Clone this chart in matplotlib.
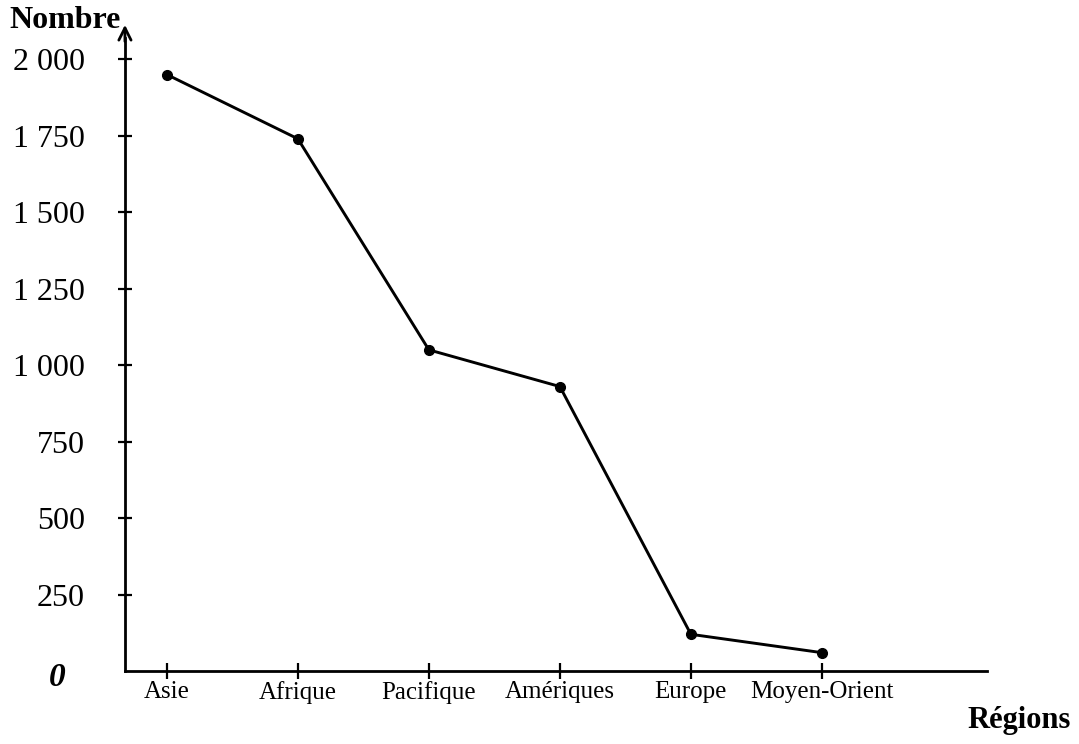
import matplotlib
matplotlib.use('Agg')
import matplotlib.pyplot as plt

# données
regions = ['Asie', 'Afrique', 'Pacifique', 'Amériques', 'Europe', 'Moyen-Orient']
nombre = [1950, 1740, 1050, 930, 120, 60]
yticks = [250, 500, 750, 1000, 1250, 1500, 1750, 2000]
ytick_labels = ['250', '500', '750', '1 000', '1 250', '1 500', '1 750', '2 000']

plt.rcParams['font.family'] = ['Liberation Serif', 'DejaVu Serif']

fig = plt.figure(figsize=(10.79, 7.44), dpi=100)
ax = fig.add_axes([0.1158, 0.0981, 0.7989, 0.851])

x = list(range(len(regions)))
ax.plot(x, nombre, color='black', linewidth=2.1, marker='o', markersize=7)

ax.set_xlim(-0.32, 6.26)
ax.set_ylim(0, 2070)

ax.set_xticks(x)
ax.set_xticklabels(regions, fontsize=18)
ax.set_yticks(yticks)
ax.set_yticklabels(ytick_labels, fontsize=23)

ax.tick_params(axis='x', direction='inout', length=12, width=1.6, pad=1)
ax.tick_params(axis='y', direction='inout', length=10, width=1.6, pad=24)

for s in ['top', 'right']:
    ax.spines[s].set_visible(False)
for s in ['left', 'bottom']:
    ax.spines[s].set_linewidth(2)

# flèche au sommet de l'axe vertical
ax.annotate('', xy=(0, 1.025), xytext=(0, 0.99), xycoords='axes fraction',
            arrowprops=dict(arrowstyle='->', lw=2, color='black',
                            mutation_scale=22), annotation_clip=False)

# zéro écrit à la main
ax.text(-0.078, -0.01, '0', transform=ax.transAxes, fontsize=24,
        fontweight='bold', ha='center', va='center', style='italic')

fig.text(0.009, 0.973, 'Nombre', fontsize=23, fontweight='bold',
         ha='left', va='center')
fig.text(0.992, 0.032, 'Régions', fontsize=22, fontweight='bold',
         ha='right', va='center')

fig.savefig('out.png', dpi=100)
